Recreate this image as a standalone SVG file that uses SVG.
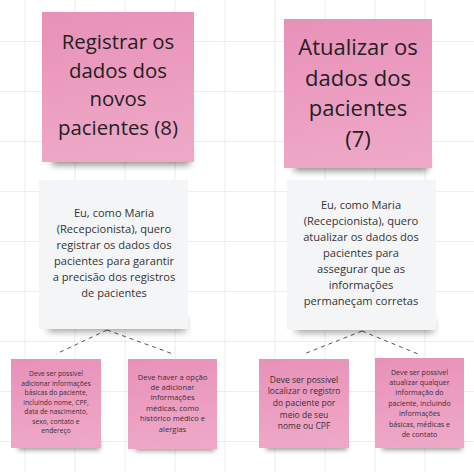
<svg xmlns="http://www.w3.org/2000/svg" width="474" height="472" viewBox="0 0 474 472">
<defs>
<linearGradient id="pink" x1="0" y1="0" x2="0.15" y2="1">
<stop offset="0" stop-color="#e891b8"/>
<stop offset="1" stop-color="#eea7c7"/>
</linearGradient>
<filter id="blur" x="-20%" y="-100%" width="140%" height="300%">
<feGaussianBlur stdDeviation="3.5"/>
</filter>
<filter id="blur2" x="-20%" y="-100%" width="140%" height="300%">
<feGaussianBlur stdDeviation="2.5"/>
</filter>
</defs>
<style>
.grid line{stroke:#ececec;stroke-width:1}
.sticky{fill:url(#pink)}
.card{fill:#f4f5f7}
.shadow{fill:#000;opacity:.45;filter:url(#blur)}
.shadow2{fill:#000;opacity:.4;filter:url(#blur2)}
text{font-family:"Open Sans","Noto Sans","Liberation Sans",sans-serif;text-anchor:middle}
.big{fill:#222}
.mid{fill:#333;font-size:11.1px}
.small{fill:#3a2f36}
.conn line{stroke:#555;stroke-width:1;stroke-dasharray:4 4}
</style>
<rect width="474" height="472" fill="#ffffff"/>
<g class="grid">
<line x1="25" y1="0" x2="25" y2="472"/><line x1="75" y1="0" x2="75" y2="472"/><line x1="125" y1="0" x2="125" y2="472"/><line x1="175" y1="0" x2="175" y2="472"/><line x1="225" y1="0" x2="225" y2="472"/><line x1="275" y1="0" x2="275" y2="472"/><line x1="325" y1="0" x2="325" y2="472"/><line x1="375" y1="0" x2="375" y2="472"/><line x1="425" y1="0" x2="425" y2="472"/>
<line x1="0" y1="41.5" x2="474" y2="41.5"/><line x1="0" y1="91.5" x2="474" y2="91.5"/><line x1="0" y1="141.5" x2="474" y2="141.5"/><line x1="0" y1="191.5" x2="474" y2="191.5"/><line x1="0" y1="241.5" x2="474" y2="241.5"/><line x1="0" y1="291.5" x2="474" y2="291.5"/><line x1="0" y1="341.5" x2="474" y2="341.5"/><line x1="0" y1="391.5" x2="474" y2="391.5"/><line x1="0" y1="441.5" x2="474" y2="441.5"/>
</g>
<g class="conn">
<line x1="107" y1="330" x2="56" y2="354"/>
<line x1="107" y1="330" x2="173" y2="354"/>
<line x1="362" y1="331" x2="304" y2="354"/>
<line x1="362" y1="331" x2="418" y2="354"/>
</g>
<g id="story1">
<rect class="shadow" x="52" y="150" width="138" height="15"/>
<rect class="sticky" x="42" y="12" width="152" height="150"/>
<text class="big" font-size="20.4" x="118" y="49">Registrar os</text>
<text class="big" font-size="20.4" x="118" y="78">dados dos</text>
<text class="big" font-size="20.4" x="118" y="106">novos</text>
<text class="big" font-size="20.4" x="118" y="135">pacientes (8)</text>
</g>
<g id="story2">
<rect class="shadow" x="294" y="156" width="134" height="15"/>
<rect class="sticky" x="284" y="19" width="148" height="149"/>
<text class="big" font-size="22" x="358" y="55">Atualizar os</text>
<text class="big" font-size="22" x="358" y="85.5">dados dos</text>
<text class="big" font-size="22" x="358" y="116">pacientes</text>
<text class="big" font-size="22" x="358" y="146.5">(7)</text>
</g>
<g id="card1">
<rect class="shadow" x="48" y="318" width="138" height="14" style="opacity:.35"/>
<rect class="card" x="39" y="180" width="149" height="149"/>
<text class="mid" x="114" y="217">Eu, como Maria</text>
<text class="mid" x="114" y="233">(Recepcionista), quero</text>
<text class="mid" x="114" y="249">registrar os dados dos</text>
<text class="mid" x="114" y="265">pacientes para garantir</text>
<text class="mid" x="114" y="281">a precisão dos registros</text>
<text class="mid" x="114" y="297">de pacientes</text>
</g>
<g id="card2">
<rect class="shadow" x="296" y="319" width="138" height="14" style="opacity:.35"/>
<rect class="card" x="287" y="180" width="149" height="150"/>
<text class="mid" x="361" y="209">Eu, como Maria</text>
<text class="mid" x="361" y="225">(Recepcionista), quero</text>
<text class="mid" x="361" y="241">atualizar os dados dos</text>
<text class="mid" x="361" y="257">pacientes para</text>
<text class="mid" x="361" y="273">assegurar que as</text>
<text class="mid" x="361" y="289">informações</text>
<text class="mid" x="361" y="305">permaneçam corretas</text>
</g>
<g id="req1">
<rect class="shadow2" x="18" y="440" width="82" height="10"/>
<rect class="sticky" x="11" y="359" width="90" height="89"/>
<text class="small" font-size="6.7" x="56" y="376">Deve ser possivel</text>
<text class="small" font-size="6.7" x="56" y="385.5">adicionar informações</text>
<text class="small" font-size="6.7" x="56" y="395">básicas do paciente,</text>
<text class="small" font-size="6.7" x="56" y="404.5">incluindo nome, CPF,</text>
<text class="small" font-size="6.7" x="56" y="414">data de nascimento,</text>
<text class="small" font-size="6.7" x="56" y="423.5">sexo, contato e</text>
<text class="small" font-size="6.7" x="56" y="433">endereço</text>
</g>
<g id="req2">
<rect class="shadow2" x="135" y="441" width="80" height="10"/>
<rect class="sticky" x="128" y="359" width="89" height="90"/>
<text class="small" font-size="7.6" x="172.5" y="379.5">Deve haver a opção</text>
<text class="small" font-size="7.6" x="172.5" y="389.9">de adicionar</text>
<text class="small" font-size="7.6" x="172.5" y="400.3">informações</text>
<text class="small" font-size="7.6" x="172.5" y="410.7">médicas, como</text>
<text class="small" font-size="7.6" x="172.5" y="421.1">histórico médico e</text>
<text class="small" font-size="7.6" x="172.5" y="431.5">alergias</text>
</g>
<g id="req3">
<rect class="shadow2" x="266" y="440" width="81" height="10"/>
<rect class="sticky" x="259" y="359" width="90" height="89"/>
<text class="small" font-size="8.5" x="304" y="382.5">Deve ser possivel</text>
<text class="small" font-size="8.5" x="304" y="394.2">localizar o registro</text>
<text class="small" font-size="8.5" x="304" y="405.9">do paciente por</text>
<text class="small" font-size="8.5" x="304" y="417.6">meio de seu</text>
<text class="small" font-size="8.5" x="304" y="429.3">nome ou CPF</text>
</g>
<g id="req4">
<rect class="shadow2" x="382" y="440" width="80" height="10"/>
<rect class="sticky" x="375" y="358" width="89" height="90"/>
<text class="small" font-size="7.1" x="419.5" y="374.5">Deve ser possivel</text>
<text class="small" font-size="7.1" x="419.5" y="384.9">atualizar qualquer</text>
<text class="small" font-size="7.1" x="419.5" y="395.3">informação do</text>
<text class="small" font-size="7.1" x="419.5" y="405.7">paciente, incluindo</text>
<text class="small" font-size="7.1" x="419.5" y="416.1">informações</text>
<text class="small" font-size="7.1" x="419.5" y="426.5">básicas, médicas e</text>
<text class="small" font-size="7.1" x="419.5" y="436.9">de contato</text>
</g>
</svg>
